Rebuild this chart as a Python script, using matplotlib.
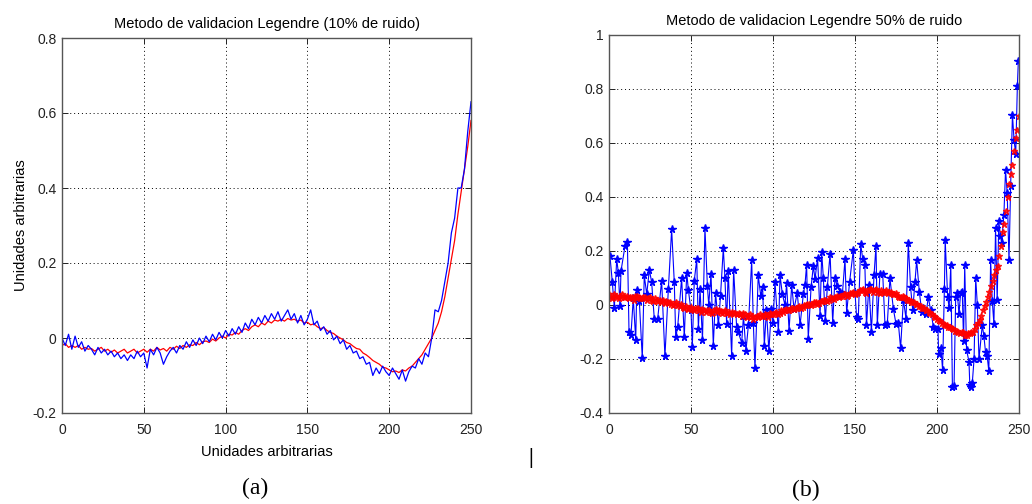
import matplotlib.pyplot as plt
import numpy as np

plt.rcParams['font.family'] = ['Liberation Sans', 'DejaVu Sans']

# panel (a): 10% noise, both series sampled every 2 units
xa = np.arange(0, 251, 2)
red_a = [-0.02, -0.015, -0.025, -0.02, -0.025, -0.02, -0.03, -0.025, -0.03, -0.028,
         -0.035, -0.03, -0.025, -0.035, -0.03, -0.038, -0.032, -0.04, -0.035, -0.03,
         -0.04, -0.035, -0.03, -0.04, -0.035, -0.03, -0.038, -0.03, -0.035, -0.025,
         -0.032, -0.028, -0.035, -0.025, -0.03, -0.022, -0.028, -0.02, -0.025, -0.018,
         -0.02, -0.012, -0.018, -0.01, -0.008, -0.012, -0.003, -0.008, 0.0, 0.005,
         0.0, 0.01, 0.008, 0.015, 0.01, 0.02, 0.025, 0.02, 0.03, 0.035,
         0.03, 0.04, 0.035, 0.045, 0.04, 0.048, 0.045, 0.05, 0.045, 0.052,
         0.048, 0.05, 0.045, 0.048, 0.04, 0.042, 0.035, 0.038, 0.03, 0.025,
         0.028, 0.02, 0.015, 0.012, 0.005, 0.0, -0.005, -0.012, -0.015, -0.022,
         -0.028, -0.03, -0.04, -0.045, -0.052, -0.06, -0.065, -0.07, -0.078, -0.08,
         -0.085, -0.09, -0.088, -0.092, -0.085, -0.088, -0.08, -0.075, -0.065, -0.055,
         -0.045, -0.03, -0.015, 0.0, 0.02, 0.04, 0.07, 0.11, 0.16, 0.21,
         0.26, 0.33, 0.39, 0.45, 0.51, 0.58]
blue_a = [0.0, -0.02, 0.01, -0.03, 0.005, -0.025, -0.01, -0.035, -0.02, -0.03,
          -0.045, -0.025, -0.04, -0.03, -0.045, -0.035, -0.05, -0.04, -0.055, -0.045,
          -0.06, -0.045, -0.055, -0.035, -0.05, -0.04, -0.08, -0.03, -0.045, -0.025,
          -0.04, -0.07, -0.05, -0.035, -0.025, -0.04, -0.02, -0.03, -0.01, -0.025,
          -0.005, -0.02, 0.0, -0.015, 0.005, -0.01, 0.01, -0.005, 0.015, 0.0,
          0.02, 0.005, 0.025, 0.01, 0.03, 0.015, 0.04, 0.025, 0.05, 0.035,
          0.055, 0.04, 0.06, 0.045, 0.065, 0.05, 0.07, 0.045, 0.06, 0.075,
          0.05, 0.065, 0.04, 0.06, 0.035, 0.05, 0.075, 0.035, 0.045, 0.02,
          0.03, 0.01, 0.02, -0.005, 0.005, -0.015, -0.005, -0.03, -0.02, -0.04,
          -0.035, -0.055, -0.05, -0.07, -0.065, -0.1, -0.08, -0.095, -0.075, -0.09,
          -0.1, -0.08, -0.095, -0.11, -0.085, -0.115, -0.09, -0.075, -0.08, -0.055,
          -0.07, -0.04, -0.05, 0.0, 0.075, 0.07, 0.1, 0.15, 0.2, 0.28,
          0.32, 0.4, 0.4, 0.45, 0.55, 0.63]

# panel (b): 50% noise, fit sampled at every unit
xb = np.arange(0, 251)
red_b = [0.04, 0.03, 0.025, 0.04, 0.035, 0.03, 0.025, 0.035, 0.04, 0.03,
         0.03, 0.035, 0.025, 0.03, 0.028, 0.02, 0.032, 0.035, 0.03, 0.025,
         0.025, 0.03, 0.03, 0.02, 0.025, 0.03, 0.02, 0.015, 0.025, 0.018,
         0.015, 0.02, 0.012, 0.018, 0.008, 0.015, 0.01, 0.012, 0.005, 0.0,
         0.005, 0.01, 0.0, -0.005, 0.002, -0.008, -0.012, -0.005, -0.015, -0.01,
         -0.008, -0.015, -0.02, -0.01, -0.012, -0.018, -0.025, -0.015, -0.02, -0.025,
         -0.02, -0.018, -0.025, -0.03, -0.02, -0.015, -0.025, -0.02, -0.022, -0.03,
         -0.025, -0.02, -0.03, -0.025, -0.035, -0.025, -0.03, -0.028, -0.035, -0.03,
         -0.035, -0.04, -0.03, -0.035, -0.045, -0.04, -0.035, -0.04, -0.05, -0.045,
         -0.04, -0.045, -0.035, -0.04, -0.04, -0.035, -0.038, -0.045, -0.03, -0.035,
         -0.032, -0.03, -0.025, -0.035, -0.028, -0.02, -0.025, -0.02, -0.015, -0.02,
         -0.018, -0.012, -0.01, -0.015, -0.012, -0.008, -0.005, -0.01, -0.008, 0.0,
         0.0, 0.005, 0.005, 0.0, 0.002, 0.01, 0.01, 0.005, 0.008, 0.015,
         0.015, 0.02, 0.02, 0.015, 0.018, 0.028, 0.025, 0.022, 0.03, 0.035,
         0.028, 0.032, 0.035, 0.04, 0.04, 0.035, 0.038, 0.045, 0.045, 0.05,
         0.04, 0.045, 0.05, 0.055, 0.055, 0.06, 0.05, 0.045, 0.055, 0.06,
         0.06, 0.05, 0.055, 0.06, 0.05, 0.045, 0.055, 0.05, 0.05, 0.055,
         0.045, 0.05, 0.05, 0.04, 0.04, 0.045, 0.035, 0.03, 0.03, 0.035,
         0.03, 0.025, 0.02, 0.02, 0.015, 0.01, 0.01, 0.005, 0.005, -0.005,
         -0.005, -0.01, -0.01, -0.02, -0.02, -0.025, -0.03, -0.035, -0.04, -0.045,
         -0.05, -0.055, -0.06, -0.065, -0.07, -0.075, -0.075, -0.08, -0.08, -0.085,
         -0.09, -0.095, -0.095, -0.1, -0.105, -0.1, -0.1, -0.11, -0.11, -0.105,
         -0.105, -0.1, -0.1, -0.09, -0.075, -0.065, -0.055, -0.04, -0.02, -0.005,
         0.01, 0.03, 0.05, 0.07, 0.09, 0.11, 0.13, 0.145, 0.18, 0.22,
         0.27, 0.3, 0.35, 0.40, 0.45, 0.485, 0.52, 0.57, 0.62, 0.65, 0.70]
blue_bx = [0.6, 2.0, 3.25, 4.7, 5.7, 6.7, 7.3, 9.8, 11.2, 12.2, 13.4, 14.8, 16.3, 16.9, 18.5,
           20.3, 21.5, 23.0, 24.6, 26.0, 27.6, 29.7, 32.1, 34.1, 36.2, 38.2, 39.8, 40.7, 41.9,
           44.3, 45.9, 47.4, 48.4, 50.0, 50.8, 52.0, 53.5, 54.5, 55.5, 57.0, 58.5, 60.0, 60.8,
           62.2, 63.6, 65.0, 66.7, 68.0, 69.7, 70.7, 71.7, 72.7, 74.8, 76.0, 77.8, 78.8, 80.9,
           82.0, 83.5, 85.0, 87.0, 88.0, 89.0, 91.0, 92.5, 93.7, 94.7, 96.0, 97.5, 99.0, 100.0,
           101.2, 103.3, 104.3, 105.7, 107.3, 108.3, 109.8, 111.4, 112.8, 114.8, 116.5, 118.5,
           119.5, 120.5, 121.5, 123.2, 124.6, 125.6, 127.2, 128.7, 129.7, 130.7, 131.9, 133.1,
           134.8, 136.4, 137.8, 139.2, 140.9, 142.3, 143.9, 144.9, 146.7, 149.0, 150.0, 151.0,
           152.0, 153.5, 154.7, 156.0, 157.0, 158.5, 160.0, 161.6, 162.8, 163.6, 165.2, 166.9,
           168.3, 169.7, 171.3, 173.4, 175.0, 176.4, 177.8, 179.5, 181.1, 182.5, 183.9, 185.2,
           186.6, 187.6, 189.2, 190.7, 191.7, 193.3, 194.7, 196.1, 197.8, 198.8, 200.6, 201.0,
           202.4, 203.4, 204.5, 205.0, 206.5, 207.4, 208.4, 209.4, 210.4, 211.4, 212.4, 213.4,
           214.4, 215.4, 216.2, 216.9, 218.0, 219.5, 220.0, 220.8, 221.5, 222.6, 223.6, 224.6,
           225.6, 227.6, 228.6, 229.6, 230.6, 231.6, 232.7, 233.7, 234.7, 235.7, 236.7, 237.7,
           238.7, 239.4, 240.8, 241.8, 242.8, 243.9, 244.9, 246.0, 247.0, 248.0, 249.0, 249.6]
blue_by = [0.18, 0.086, -0.01, 0.17, 0.12, -0.005, 0.125, 0.22, 0.235, -0.10, -0.11, 0.025, -0.13, 0.055, 0.013,
           -0.197, 0.11, 0.04, 0.13, 0.085, -0.05, -0.05, 0.09, -0.19, 0.06, 0.28, 0.085, -0.12, -0.08,
           0.10, -0.12, 0.12, 0.055, -0.02, -0.155, 0.09, 0.17, -0.09, 0.06, -0.13, 0.285, 0.07, 0.0,
           0.115, -0.15, 0.045, -0.075, 0.035, 0.21, 0.10, -0.07, 0.125, -0.19, 0.13, -0.08, -0.10, -0.14,
           -0.04, -0.17, -0.075, 0.165, -0.065, -0.235, 0.11, 0.035, 0.065, -0.15, -0.02, -0.17, -0.015, -0.065,
           0.085, -0.10, 0.11, 0.04, 0.0, 0.08, -0.095, 0.075, -0.015, 0.045, -0.075, 0.04,
           0.075, 0.15, -0.125, 0.065, 0.145, 0.095, 0.175, -0.04, 0.195, 0.10, -0.06, 0.065,
           0.19, -0.065, 0.10, 0.07, 0.05, 0.04, 0.17, -0.03, 0.085, 0.205, 0.045, -0.045,
           -0.05, 0.225, 0.17, 0.15, -0.075, 0.075, -0.10, 0.11, 0.22, -0.075, 0.115, 0.115,
           -0.075, -0.07, 0.10, -0.015, -0.07, -0.065, -0.16, 0.02, -0.05, 0.23, 0.065, -0.02,
           0.085, 0.165, 0.05, -0.025, -0.01, -0.035, 0.03, -0.02, -0.08, -0.09, -0.09, -0.18,
           -0.16, -0.24, 0.06, 0.24, 0.03, -0.01, 0.15, -0.305, -0.30, 0.03, 0.045, -0.035,
           0.045, 0.05, -0.135, 0.15, -0.165, -0.21, -0.295, -0.305, -0.29, -0.20, 0.10, 0.0,
           -0.20, -0.075, -0.115, -0.175, -0.19, -0.245, 0.165, 0.015, -0.07, 0.285, 0.02, 0.31,
           0.255, 0.23, 0.335, 0.50, 0.415, 0.165, 0.44, 0.705, 0.61, 0.56, 0.81, 0.905]

xticks = [0, 50, 100, 150, 200, 250]
yticks_a = [-0.2, 0, 0.2, 0.4, 0.6, 0.8]
ylabels_a = ['-0.2', '0', '0.2', '0.4', '0.6', '0.8']
yticks_b = [-0.4, -0.2, 0, 0.2, 0.4, 0.6, 0.8, 1]
ylabels_b = ['-0.4', '-0.2', '0', '0.2', '0.4', '0.6', '0.8', '1']


def style(ax):
    ax.grid(True, color='k', linestyle=(0, (1, 3)), linewidth=0.7)
    ax.tick_params(direction='in', top=True, right=True, length=4, width=0.7,
                   labelsize=10, colors='#222222')
    ax.tick_params(axis='x', pad=7)
    ax.tick_params(axis='y', pad=4)
    for s in ax.spines.values():
        s.set_color('#555555')
        s.set_linewidth(1.0)


fig = plt.figure(figsize=(10.32, 5.04), dpi=100)

ax1 = fig.add_axes([62 / 1032, 91 / 504, 409 / 1032, 375 / 504])
ax1.plot(xa, red_a, color='#ff0000', lw=0.9)
ax1.plot(xa, blue_a, color='#0000ff', lw=0.9)
ax1.set_xlim(0, 250)
ax1.set_ylim(-0.2, 0.8)
ax1.set_xticks(xticks)
ax1.set_yticks(yticks_a)
ax1.set_yticklabels(ylabels_a)
style(ax1)
ax1.set_title('Metodo de validacion Legendre (10% de ruido)', fontsize=10.5, pad=7)
ax1.set_xlabel('Unidades arbitrarias', fontsize=10.5, labelpad=6)
ax1.set_ylabel('Unidades arbitrarias', fontsize=10.5, labelpad=3)

ax2 = fig.add_axes([609 / 1032, 91 / 504, 410 / 1032, 378 / 504])
ax2.plot(blue_bx, blue_by, color='#0000ff', lw=0.8, marker='*', markersize=5.5)
ax2.plot(xb, red_b, color='#ff0000', lw=0, marker='*', markersize=4.5, alpha=0.85)
ax2.set_xlim(0, 250)
ax2.set_ylim(-0.4, 1)
ax2.set_xticks(xticks)
ax2.set_yticks(yticks_b)
ax2.set_yticklabels(ylabels_b)
style(ax2)
ax2.set_title('Metodo de validacion Legendre 50% de ruido', fontsize=10.5, pad=7)

fig.text(255 / 1032, 1 - 488 / 504, '(a)', family='Liberation Serif', fontsize=17,
         ha='center', va='center')
fig.text(806 / 1032, 1 - 490 / 504, '(b)', family='Liberation Serif', fontsize=17,
         ha='center', va='center')
fig.text(531 / 1032, 1 - 458 / 504, '|', family='Liberation Serif', fontsize=16,
         fontweight='bold', ha='center', va='center')

fig.savefig('out.png', dpi=100)
